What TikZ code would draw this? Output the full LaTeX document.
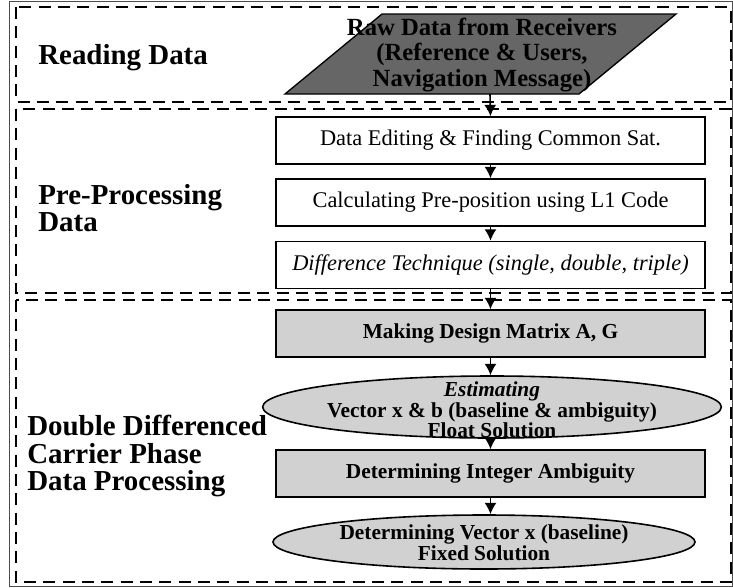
\documentclass[tikz,border=0pt]{standalone}
\usepackage{fontspec}
\setmainfont{Liberation Serif}
\usetikzlibrary{arrows.meta,shapes.geometric}
\newcommand{\lblfont}{\fontsize{21.7}{20.5}\selectfont\bfseries}
\newcommand{\boxfont}{\fontsize{16.8}{18}\selectfont}
\newcommand{\boldboxfont}{\fontsize{16}{18}\selectfont\bfseries}
\begin{document}
\begin{tikzpicture}[x=0.75pt,y=-0.75pt,
  sect/.style={draw, line width=1.6pt, dash pattern=on 9pt off 5.5pt},
  procbox/.style={draw, line width=1.2pt, minimum width=321.75pt, minimum height=35.25pt, inner sep=0pt, font=\boxfont},
  shadebox/.style={procbox, fill=black!18, font=\boldboxfont},
  oval/.style={ellipse, draw, line width=1.2pt, fill=black!18, inner sep=0pt},
  ovaltext/.style={align=center, inner sep=0pt},
  flow/.style={-{Latex[length=8.5pt,width=9pt]}, line width=1.2pt},
  lbl/.style={anchor=west, align=left, inner sep=0pt, font=\lblfont}]
\useasboundingbox (0,0) rectangle (733,587);
% outer frame
\draw[line width=0.5pt, black!70] (9,1) rectangle (732,586);
% section frames
\draw[sect] (16,7) rectangle (731,102);
\draw[sect] (16,109) rectangle (731,293);
\draw[sect] (16,300) rectangle (731,582);
% section labels
\node[lbl] (lread) at (38,58) {Reading Data};
\node[lbl] (lpre) at (38,208) {Pre-Processing\\Data};
\node[lbl] (ldd) at (27,456) {Double Differenced\\Carrier Phase\\Data Processing};
% raw data parallelogram
\draw[line width=1pt, fill=black!60] (285,94) -- (382,14) -- (676,14) -- (579,94) -- cycle;
\node[align=center, inner sep=0pt, font=\fontsize{18.5}{19}\selectfont\bfseries] (raw) at (482,55) {Raw Data from Receivers\\(Reference \& Users,\\Navigation Message)};
\coordinate (rawb) at (490,94);
% pre-processing boxes
\node[procbox] (edit) at (490.5,140.5) {Data Editing \& Finding Common Sat.};
\node[procbox] (calc) at (490.5,202.5) {Calculating Pre-position using L1 Code};
\node[procbox] (diff) at (490.5,265) {\itshape Difference Technique (single, double, triple)};
% DD processing
\node[shadebox] (mat) at (490.5,333.5) {Making Design Matrix A, G};
\node[oval, minimum width=344pt, minimum height=46.5pt] (est) at (492,407) {};
\node[ovaltext, font=\fontsize{16}{15.5}\selectfont\bfseries] (estt) at (492,410) {\textit{Estimating}\\Vector x \& b (baseline \& ambiguity)\\Float Solution};
\node[shadebox] (amb) at (490.5,473.5) {Determining Integer Ambiguity};
\node[oval, minimum width=316.5pt, minimum height=40.5pt] (fix) at (484,542) {};
\node[ovaltext, font=\fontsize{16}{16}\selectfont\bfseries] (fixt) at (484,543) {Determining Vector x (baseline)\\Fixed Solution};
% connectors
\draw[flow] (rawb) -- (edit.north);
\draw[flow] (edit) -- (calc);
\draw[flow] (calc) -- (diff);
\draw[flow] (diff) -- (mat);
\draw[flow] (mat.south) -- (mat.south |- est.north);
\draw[flow] (mat.south |- est.south) -- (amb.north);
\draw[flow] (amb.south) -- (amb.south |- fix.north);
\end{tikzpicture}
\end{document}
